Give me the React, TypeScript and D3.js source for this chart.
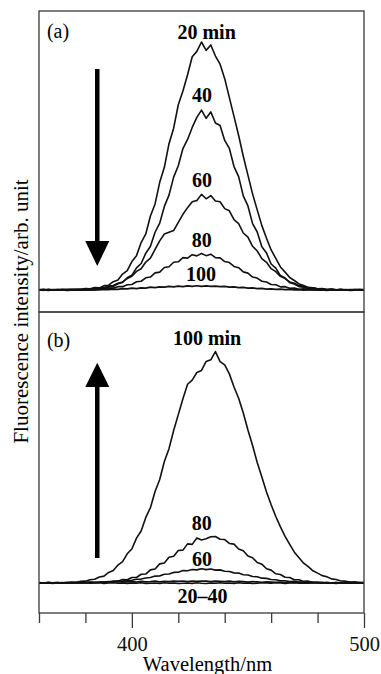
import React, { useEffect, useRef } from 'react';
import * as d3 from 'd3';

// sampling grid, nm (360..500 step 2)
const wavelengths: number[] = d3.range(360, 501, 2);

// panel (a): intensity, decay with time
const a20 = [
  0.2, -0.1, 0.3, 0.0, 0.2, 0.1, 0.3, 0.2, 0.4, 0.3,
  0.6, 0.5, 1.0, 0.9, 1.8, 2.0, 3.4, 4.1, 6.5, 7.9,
  11.6, 14.0, 19.3, 22.8, 30.1, 35.0, 43.8, 49.9, 59.5, 65.8,
  75.3, 80.9, 87.5, 94.8, 97.0, 100.8, 97.4, 99.6, 95.1, 91.8,
  85.9, 78.2, 70.6, 62.8, 54.4, 46.7, 39.1, 32.6, 26.2, 21.1,
  16.3, 12.9, 9.4, 7.3, 5.1, 3.9, 2.5, 1.9, 1.1, 0.9,
  0.5, 0.6, 0.2, 0.4, 0.1, 0.3, 0.0, 0.2, 0.1, 0.3, 0.1,
];
const a40 = [
  0.1, 0.3, 0.0, 0.2, 0.1, 0.3, 0.1, 0.2, 0.1, 0.3,
  0.2, 0.4, 0.3, 0.7, 0.6, 1.3, 1.5, 2.6, 3.1, 5.0,
  6.0, 9.0, 10.8, 15.0, 17.8, 23.5, 27.2, 34.0, 38.6, 45.9,
  50.5, 57.5, 61.2, 66.1, 70.2, 73.1, 69.8, 72.4, 67.9, 66.9,
  60.8, 57.6, 50.2, 46.1, 38.3, 34.2, 27.0, 23.6, 17.6, 15.1,
  10.6, 8.9, 5.9, 4.9, 3.0, 2.5, 1.4, 1.2, 0.5, 0.6,
  0.2, 0.3, 0.1, 0.2, 0.0, 0.2, 0.1, 0.0, 0.2, 0.1, 0.1,
];
const a60 = [
  0.1, 0.0, 0.2, 0.1, 0.0, 0.2, 0.1, 0.2, 0.1, 0.0,
  0.3, 0.4, 0.6, 0.9, 1.0, 1.6, 1.9, 2.8, 3.3, 4.7,
  5.6, 7.6, 8.7, 11.4, 13.0, 16.5, 20.0, 22.8, 23.5, 24.2,
  27.5, 30.8, 33.5, 35.9, 36.4, 38.9, 37.1, 38.4, 36.2, 35.9,
  33.1, 32.2, 28.6, 27.0, 23.2, 21.5, 17.8, 15.9, 12.8, 11.3,
  8.7, 7.5, 5.6, 4.7, 3.3, 2.8, 1.8, 1.6, 0.9, 0.9,
  0.5, 0.5, 0.2, 0.3, 0.1, 0.2, 0.0, 0.1, 0.2, 0.0, 0.1,
];
const a80 = [
  0.1, 0.2, 0.0, 0.1, 0.2, 0.0, 0.1, 0.2, 0.1, 0.2,
  0.1, 0.3, 0.2, 0.5, 0.4, 0.8, 0.8, 1.4, 1.4, 2.2,
  2.3, 3.4, 3.6, 5.0, 5.3, 7.0, 7.3, 9.2, 9.5, 11.3,
  11.5, 13.2, 13.0, 14.4, 13.9, 14.9, 14.0, 14.6, 13.2, 13.1,
  11.6, 11.2, 9.6, 9.1, 7.4, 6.9, 5.3, 4.9, 3.6, 3.3,
  2.3, 2.2, 1.3, 1.4, 0.7, 0.8, 0.3, 0.5, 0.2, 0.3,
  0.1, 0.2, 0.0, 0.2, 0.1, 0.0, 0.2, 0.1, 0.0, 0.1, 0.2,
];
const a100 = [
  0.0, 0.1, -0.1, 0.1, 0.0, 0.1, -0.1, 0.0, 0.1, 0.0,
  0.1, 0.0, 0.2, 0.1, 0.3, 0.2, 0.4, 0.3, 0.6, 0.5,
  0.8, 0.6, 0.9, 0.8, 1.2, 1.0, 1.3, 1.2, 1.5, 1.3,
  1.6, 1.4, 1.7, 1.5, 1.8, 1.5, 1.7, 1.5, 1.6, 1.4,
  1.5, 1.2, 1.3, 1.0, 1.1, 0.8, 0.9, 0.6, 0.7, 0.4,
  0.5, 0.3, 0.4, 0.2, 0.3, 0.1, 0.2, 0.0, 0.1, 0.1,
  0.0, 0.1, -0.1, 0.1, 0.0, 0.0, 0.1, -0.1, 0.0, 0.1, 0.0,
];

// panel (b): intensity, growth with time
const b100 = [
  0.1, 0.0, 0.2, 0.0, 0.1, 0.2, 0.1, 0.4, 0.3, 0.7,
  0.8, 1.4, 1.6, 2.6, 3.0, 4.6, 5.4, 7.8, 9.3, 12.7,
  14.8, 19.5, 22.6, 28.5, 32.7, 39.8, 45.0, 52.8, 58.4, 66.3,
  73.2, 80.1, 86.4, 88.2, 91.5, 92.4, 96.3, 97.0, 100.6, 96.2,
  94.8, 90.9, 85.2, 80.3, 73.9, 66.5, 59.8, 52.4, 46.1, 39.6,
  34.0, 28.9, 24.4, 20.3, 16.8, 13.4, 11.0, 8.6, 7.1, 5.3,
  4.3, 3.2, 2.7, 1.8, 1.5, 0.9, 0.8, 0.4, 0.5, 0.2, 0.3,
];
const b80 = [
  0.0, 0.1, 0.0, 0.1, 0.2, 0.0, 0.1, 0.0, 0.2, 0.1,
  0.2, 0.1, 0.3, 0.2, 0.5, 0.4, 0.9, 0.8, 1.5, 1.4,
  2.4, 2.4, 3.8, 3.9, 5.7, 6.1, 8.3, 8.7, 11.2, 11.6,
  14.1, 14.3, 17.0, 16.8, 19.6, 18.7, 19.2, 20.1, 20.2, 19.0,
  18.9, 17.2, 16.9, 14.8, 14.0, 11.7, 11.0, 8.9, 8.2, 6.2,
  5.6, 4.0, 3.7, 2.5, 2.4, 1.4, 1.4, 0.7, 0.8, 0.3,
  0.4, 0.1, 0.3, 0.0, 0.2, 0.1, 0.0, 0.2, 0.1, 0.0, 0.1,
];
const b60 = [
  0.1, 0.0, 0.1, 0.0, 0.1, 0.1, 0.0, 0.1, 0.2, 0.1,
  0.2, 0.3, 0.2, 0.4, 0.4, 0.6, 0.5, 0.8, 0.8, 1.1,
  1.2, 1.6, 1.7, 2.2, 2.4, 3.0, 3.1, 3.8, 3.9, 4.6,
  4.7, 5.4, 5.3, 5.9, 5.7, 6.2, 5.8, 6.1, 5.6, 5.7,
  5.1, 5.0, 4.4, 4.3, 3.6, 3.5, 2.8, 2.7, 2.1, 2.0,
  1.5, 1.4, 1.0, 1.0, 0.6, 0.7, 0.4, 0.4, 0.2, 0.3,
  0.1, 0.2, 0.0, 0.1, 0.1, 0.0, 0.1, 0.0, 0.1, 0.0, 0.1,
];
const b40 = [
  0.2, 0.0, 0.3, 0.1, 0.2, 0.0, 0.3, 0.2, 0.1, 0.3,
  0.2, 0.4, 0.2, 0.3, 0.5, 0.3, 0.4, 0.6, 0.4, 0.5,
  0.6, 0.4, 0.7, 0.5, 0.6, 0.8, 0.5, 0.7, 0.6, 0.8,
  0.7, 0.9, 0.6, 0.8, 0.7, 0.9, 0.8, 0.6, 0.8, 0.7,
  0.6, 0.8, 0.5, 0.7, 0.6, 0.4, 0.6, 0.5, 0.3, 0.5,
  0.4, 0.3, 0.4, 0.2, 0.3, 0.1, 0.3, 0.2, 0.0, 0.2,
  0.1, 0.2, 0.0, 0.1, 0.2, 0.0, 0.1, 0.0, 0.1, 0.2, 0.0,
];
const b20 = [
  -0.1, 0.1, 0.0, -0.2, 0.1, 0.0, -0.1, 0.1, -0.1, 0.0,
  0.1, -0.1, 0.0, 0.1, -0.2, 0.0, 0.1, -0.1, 0.0, -0.2,
  0.0, -0.1, 0.1, -0.2, -0.1, 0.0, -0.2, 0.1, -0.1, 0.0,
  -0.2, -0.1, 0.0, -0.2, 0.1, -0.1, -0.2, 0.0, -0.1, 0.1,
  -0.1, 0.0, -0.2, 0.1, -0.1, 0.0, -0.2, -0.1, 0.1, 0.0,
  -0.1, 0.1, 0.0, -0.2, 0.0, 0.1, -0.1, 0.0, -0.1, 0.1,
  0.0, -0.1, 0.1, 0.0, -0.2, 0.1, 0.0, -0.1, 0.1, 0.0, -0.1,
];

const seriesA = [a20, a40, a60, a80, a100];
const seriesB = [b100, b80, b60, b40, b20];

// curve labels: [text, wavelength, intensity]
const labelsA: [string, number, number][] = [
  ['20 min', 432.2, 102], ['40', 430.2, 76.5], ['60', 430.2, 42], ['80', 430.1, 17.5], ['100', 429.8, 3.7],
];
const labelsB: [string, number, number][] = [
  ['100 min', 432.4, 103.5], ['80', 430.1, 23], ['60', 430.2, 7.5], ['20–40', 430.4, -8.6],
];

const minorTicks = [360, 380, 420, 440, 460, 480];
const majorTicks = [400, 500];

const W = 381, H = 674;
const FONT = '"Liberation Serif", "Times New Roman", serif';

const App = () => {
  const ref = useRef<SVGSVGElement>(null);

  useEffect(() => {
    const svg = d3.select(ref.current);
    svg.selectAll('*').remove();

    const x = d3.scaleLinear().domain([360, 500]).range([39, 364]);
    const yA = d3.scaleLinear().domain([-8.9, 113.4]).range([312, 11]);
    const yB = d3.scaleLinear().domain([-13.04, 117.8]).range([613, 312]);

    const drawPanel = (y: d3.ScaleLinear<number, number>, series: number[][], labels: [string, number, number][], tag: string, up: boolean) => {
      const g = svg.append('g');
      const line = d3.line<number>()
        .x((_, i) => x(wavelengths[i]))
        .y(d => y(d));

      series.forEach(s => {
        g.append('path')
          .attr('d', line(s))
          .attr('fill', 'none')
          .attr('stroke', '#111')
          .attr('stroke-width', 1.6)
          .attr('stroke-linejoin', 'round');
      });

      // frame
      const [y0, y1] = y.range();
      g.append('rect')
        .attr('x', 39).attr('y', y1)
        .attr('width', 364 - 39).attr('height', y0 - y1)
        .attr('fill', 'none')
        .attr('stroke', '#3a3a3a')
        .attr('stroke-width', 1.3);

      g.append('text')
        .attr('x', x(363.4)).attr('y', y(102.4))
        .attr('font-family', FONT).attr('font-size', 20)
        .text(tag);

      labels.forEach(([t, wl, v]) => {
        g.append('text')
          .attr('x', x(wl)).attr('y', y(v))
          .attr('text-anchor', 'middle')
          .attr('font-family', FONT).attr('font-size', 20).attr('font-weight', 'bold')
          .text(t);
      });

      // arrow
      const ax = x(385.1);
      const hw = 12;
      const tail = up ? 10.9 : 89.8;
      const base = up ? 85.2 : 19.9;
      const tip = up ? 95.7 : 9.8;
      g.append('line')
        .attr('x1', ax).attr('x2', ax)
        .attr('y1', y(tail)).attr('y2', y(base))
        .attr('stroke', '#000').attr('stroke-width', 4.5);
      g.append('path')
        .attr('d', `M${ax - hw},${y(base)}L${ax + hw},${y(base)}L${ax},${y(tip)}Z`)
        .attr('fill', '#000');
    };

    drawPanel(yA, seriesA, labelsA, '(a)', false);
    drawPanel(yB, seriesB, labelsB, '(b)', true);

    // x axis (ticks below lower frame)
    const axisG = svg.append('g').attr('transform', 'translate(0,613)');
    axisG.call(d3.axisBottom(x).tickValues(minorTicks).tickSize(10).tickFormat(() => ''));
    const major = svg.append('g').attr('transform', 'translate(0,613)');
    major.call(d3.axisBottom(x).tickValues(majorTicks).tickSize(15).tickPadding(8).tickFormat(d3.format('d')));
    svg.selectAll('.domain').remove();
    svg.selectAll('.tick line').attr('stroke', '#3a3a3a').attr('stroke-width', 1.3);
    major.selectAll('.tick text')
      .attr('font-family', FONT).attr('font-size', 20.5).attr('fill', '#111');

    svg.append('text')
      .attr('x', 207.5).attr('y', 671)
      .attr('text-anchor', 'middle')
      .attr('font-family', FONT).attr('font-size', 20.5)
      .text('Wavelength/nm');

    svg.append('text')
      .attr('transform', 'translate(27.5,311.5) rotate(-90)')
      .attr('text-anchor', 'middle')
      .attr('font-family', FONT).attr('font-size', 21)
      .text('Fluorescence intensity/arb. unit');
  }, []);

  return (
    <svg ref={ref} width={W} height={H}
      style={{ position: 'absolute', left: 0, top: 0, background: '#fff' }} />
  );
};

export default App;
